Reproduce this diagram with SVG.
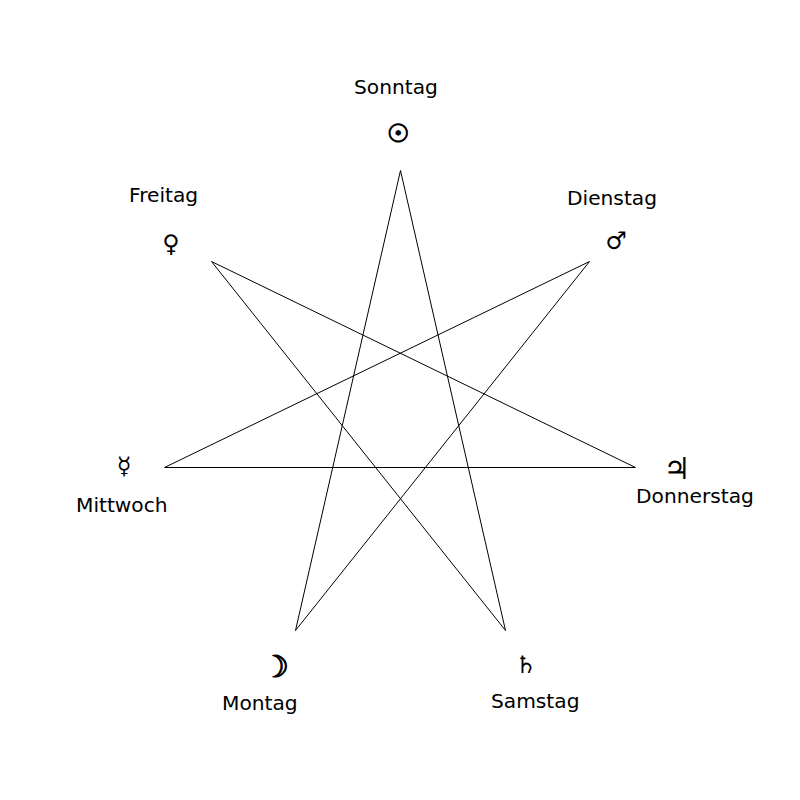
<svg xmlns="http://www.w3.org/2000/svg" width="800" height="800" viewBox="0 0 800 800">
<style>
.l{font-family:"DejaVu Sans",sans-serif;font-size:20.2px;fill:#000}
.s{font-family:"DejaVu Serif","Liberation Serif",serif;font-size:24px;fill:#000;text-anchor:middle}
.b{stroke:#000;stroke-width:1}
.c{fill:none;stroke:#000;stroke-width:1}
</style>
<rect width="800" height="800" fill="#fff"/>
<g id="connectors"><path class="c" d="M400.500 170.500L505.500 630.500L211.500 261.500L635.500 467.500L164.500 467.500L589.500 261.500L295.500 630.500Z"/></g>
<g id="sonntag"><text class="l" x="354" y="94">Sonntag</text><text class="s b" x="398" y="142" style="font-size:25px">☉</text></g>
<g id="dienstag"><text class="l" x="567" y="205">Dienstag</text><text class="s" x="616" y="249">♂</text></g>
<g id="donnerstag"><text class="l" x="636" y="503">Donnerstag</text><text class="s" x="677" y="479" style="font-size:30px">♃</text></g>
<g id="samstag"><text class="l" x="491" y="708">Samstag</text><text class="s" x="526" y="673">♄</text></g>
<g id="montag"><text class="l" x="222" y="710">Montag</text><text class="s b" x="275" y="677" style="font-size:30px">☽</text></g>
<g id="mittwoch"><text class="l" x="76" y="512">Mittwoch</text><text class="s" x="124" y="474">☿</text></g>
<g id="freitag"><text class="l" x="129" y="202">Freitag</text><text class="s" x="171" y="252">♀</text></g>
</svg>
